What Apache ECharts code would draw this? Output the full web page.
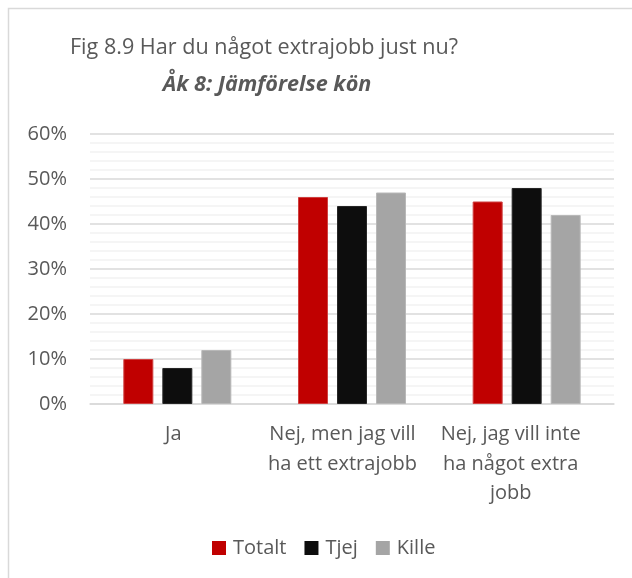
<!DOCTYPE html>
<html>
<head>
<meta charset="utf-8">
<script src="https://cdn.jsdelivr.net/npm/echarts@6/dist/echarts.min.js"></script>
<style>
  html, body { margin: 0; padding: 0; background: #fff; }
  #chart { width: 632px; height: 578px; }
</style>
</head>
<body>
<div id="chart"></div>
<script>
// Survey answers, share of pupils in year 8 (percent)
const categories = ['Ja', 'Nej, men jag vill\nha ett extrajobb', 'Nej, jag vill inte\nha något extra\njobb'];
const totalt = [10, 46, 45];
const tjej = [8, 44, 48];
const kille = [12, 47, 42];
const seriesNames = ['Totalt', 'Tjej', 'Kille'];
const titleText = 'Fig 8.9 Har du något extrajobb just nu?';
const subtitleText = 'Åk 8: Jämförelse kön';

const font = '"Open Sans", "DejaVu Sans", sans-serif';
const textColor = '#595959';

const chart = echarts.init(document.getElementById('chart'), null, { renderer: 'canvas' });

const barStyle = (color, border) => ({ color: color, borderColor: border, borderWidth: 1 });

// category label text blocks sit slightly left of their bar groups
const labelStyle = (padRight) => ({
  fontSize: 20, lineHeight: 29.5, color: textColor, fontFamily: font,
  padding: [0, padRight, 0, 0]
});

chart.setOption({
  animation: false,
  backgroundColor: '#fff',
  textStyle: { fontFamily: font },
  graphic: [
    {
      type: 'rect', silent: true, z: -1,
      shape: { x: 8.5, y: 8.5, width: 700, height: 700 },
      style: { fill: '#fff', stroke: '#d9d9d9', lineWidth: 1.5 }
    },
    {
      type: 'text', x: 264, y: 48,
      style: { text: titleText, textAlign: 'center', textVerticalAlign: 'middle',
               font: '21.6px ' + font, fill: textColor }
    },
    {
      type: 'text', x: 267, y: 85,
      style: { text: subtitleText, textAlign: 'center', textVerticalAlign: 'middle',
               font: 'italic bold 21.6px ' + font, fill: textColor }
    }
  ],
  legend: {
    data: seriesNames,
    top: 533,
    left: 207,
    itemWidth: 14,
    itemHeight: 14,
    itemGap: 18,
    icon: 'rect',
    itemStyle: { borderWidth: 0 },
    textStyle: { fontSize: 20, color: textColor, fontFamily: font, padding: [0, 0, 0, 2] }
  },
  grid: { left: 90, right: 18, top: 134, bottom: 174 },
  xAxis: {
    type: 'category',
    data: categories,
    axisLine: { lineStyle: { color: '#d9d9d9', width: 1.5 } },
    axisTick: { show: false },
    axisLabel: {
      fontSize: 20, color: textColor, lineHeight: 29.5, margin: 16, interval: 0, fontFamily: font,
      formatter: (value, index) => value.split('\n').map(line => '{c' + index + '|' + line + '}').join('\n'),
      rich: { c0: labelStyle(8), c1: labelStyle(19), c2: labelStyle(32) }
    }
  },
  yAxis: {
    type: 'value',
    min: 0, max: 60, interval: 10,
    axisLine: { show: false },
    axisTick: { show: false },
    axisLabel: { formatter: '{value}%', fontSize: 20, color: textColor, margin: 23, fontFamily: font },
    splitLine: { lineStyle: { color: '#d9d9d9', width: 1.5 } },
    minorTick: { show: false, splitNumber: 5 },
    minorSplitLine: { show: true, lineStyle: { color: '#f2f2f2', width: 1.5 } }
  },
  series: [
    { name: seriesNames[0], type: 'bar', data: totalt, barWidth: 30, barGap: '30%',
      itemStyle: barStyle('#C00000', '#cf4040') },
    { name: seriesNames[1], type: 'bar', data: tjej, barWidth: 30, barGap: '30%',
      itemStyle: barStyle('#0D0D0D', '#262626') },
    { name: seriesNames[2], type: 'bar', data: kille, barWidth: 30, barGap: '30%',
      itemStyle: barStyle('#A5A5A5', '#b8b8b8') }
  ]
});
</script>
</body>
</html>
